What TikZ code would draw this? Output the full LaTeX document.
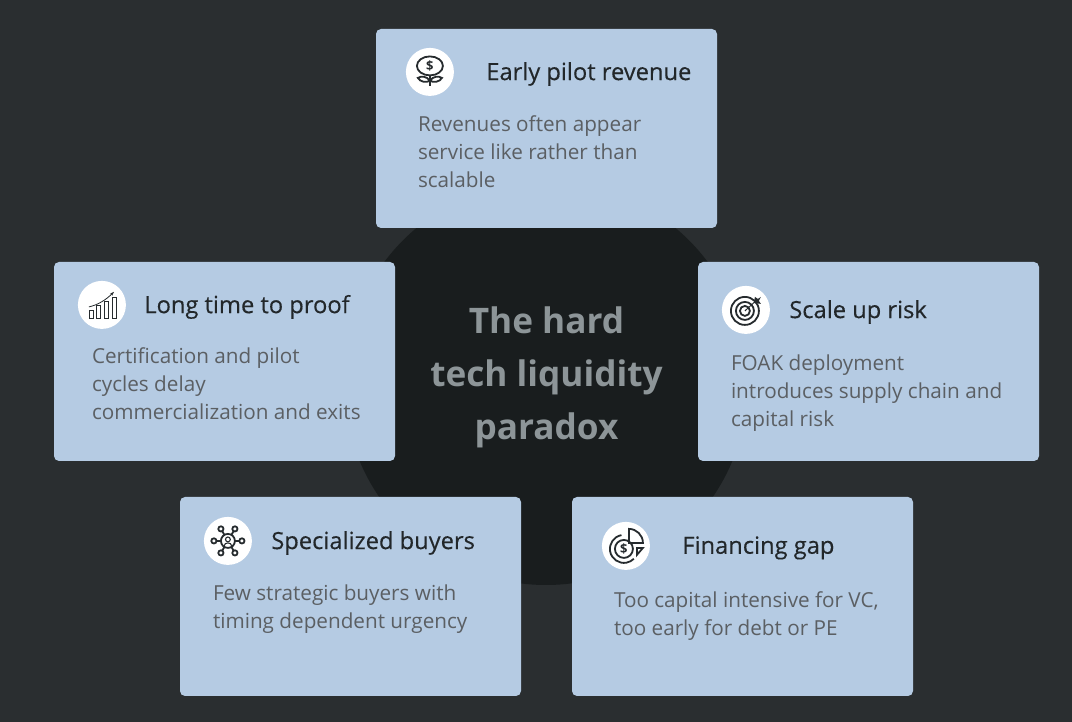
\documentclass[tikz,border=0pt]{standalone}
\usepackage{fontspec}
\setmainfont{Open Sans}
\newfontfamily\headfont[FakeBold=0.3]{Open Sans}
\usetikzlibrary{arrows.meta, positioning}

\definecolor{pageBg}{HTML}{2A2E30}
\definecolor{hubFill}{HTML}{191D1E}
\definecolor{hubText}{HTML}{8D9598}
\definecolor{cardFill}{HTML}{B5CBE3}
\definecolor{headText}{HTML}{22272A}
\definecolor{bodyText}{HTML}{5B5F63}
\definecolor{iconInk}{HTML}{262B2E}

\tikzset{
   card/.style={
      draw=none,
      fill=cardFill,
      rounded corners=5pt,
      minimum width=341pt,
      minimum height=199pt,
      inner sep=0pt
   },
   icondisc/.style={
      circle,
      fill=white,
      minimum size=48pt,
      inner sep=0pt
   },
   headline/.style={
      font=\headfont\fontsize{23.7}{28}\selectfont,
      text=headText,
      inner sep=0pt,
      anchor=west,
      yshift=-2pt
   },
   bodycopy/.style={
      font=\fontsize{20.7}{28}\selectfont,
      text=bodyText,
      align=left,
      inner sep=0pt,
      anchor=north west
   },
   ink/.style={
      draw=iconInk,
      line width=1.8pt
   },
   pics/flowerIcon/.style={
      code={
         \draw[ink] (0,6) ellipse (13 and 9.5);
         \node[text=iconInk, font=\fontsize{13}{13}\bfseries\selectfont, inner sep=0pt] at (0,6) {\$};
         \draw[ink] (0,-14) -- (0,-3);
         \draw[ink] (0,-9) .. controls (-3,-4) and (-9,-4) .. (-12,-6) .. controls (-10,-10) and (-4,-11) .. (0,-9);
         \draw[ink] (0,-9) .. controls (3,-4) and (9,-4) .. (12,-6) .. controls (10,-10) and (4,-11) .. (0,-9);
      }
   },
   pics/chartIcon/.style={
      code={
         \foreach \xleft/\ytop in {-13/-5.5, -6/-0.5, 2/3.5, 10/7.5} {
            \draw[ink, line width=0.8pt] (\xleft,-13) rectangle ++(4,\ytop+13);
         }
         \draw[ink, line width=0.8pt, -{Stealth[length=4pt]}] (-13,-2) .. controls (-4,0) and (4,5) .. (12,13);
      }
   },
   pics/targetIcon/.style={
      code={
         \foreach \ringsize in {14,9,5} {
            \draw[ink] (-1,-1) circle (\ringsize);
         }
         \draw[ink, line width=1pt] (-1,-1) -- (11,10);
         \fill[iconInk] (8,7) -- (9,13) -- (12,11) -- (15,13) -- (13,9) -- (15,6) -- cycle;
      }
   },
   pics/networkIcon/.style={
      code={
         \draw[ink] (0,0) circle (7);
         \draw[ink, line width=1.1pt] (0,1.5) circle (2.4);
         \draw[ink, line width=1.1pt] (-3.8,-5) .. controls (-3.5,-1) and (3.5,-1) .. (3.8,-5);
         \foreach \hubx/\huby in {-7/12, 7/12, -14/0, 14/0, -7/-12, 7/-12} {
            \draw[ink] (0.5*\hubx,0.5*\huby) -- (0.82*\hubx,0.82*\huby);
            \draw[ink] (\hubx,\huby) circle (2.6);
         }
      }
   },
   pics/gapIcon/.style={
      code={
         \draw[ink] (-2,-3) circle (9);
         \node[text=iconInk, font=\fontsize{13}{13}\bfseries\selectfont, inner sep=0pt] at (-2,-3) {\$};
         \draw[ink] (-2,-3) ++(100:14) arc (100:315:14);
         \draw[ink] (3,17) -- (3,3) -- (17,3) arc (0:90:14) -- cycle;
         \draw[ink] (11,-2) -- (17,-2) -- (11,-9) -- cycle;
      }
   }
}

\begin{document}
\begin{tikzpicture}[x=1pt, y=1pt]

   \fill[pageBg] (0,0) rectangle (1072,722);
   \useasboundingbox (0,0) rectangle (1072,722);

   \node[circle, fill=hubFill, minimum size=404pt, inner sep=0pt] (hub) at (546,339) {};

   \node[card] (pilot) at (546.5,593.5) {};
   \node[card] (proof) at (224.5,360.5) {};
   \node[card] (scale) at (868.5,360.5) {};
   \node[card] (buyers) at (350.5,125.5) {};
   \node[card] (gap) at (742.5,125.5) {};

   \node[font=\fontsize{35.2}{53}\bfseries\selectfont, text=hubText, align=center, inner sep=0pt] (hubTitle) at (546.5,345) {The hard\\tech liquidity\\paradox};

   \node[icondisc, below right=26pt and 37pt of pilot.north west] (pilotDisc) {};
   \node[icondisc, below right=26pt and 31pt of proof.north west] (proofDisc) {};
   \node[icondisc, below right=31pt and 31pt of scale.north west] (scaleDisc) {};
   \node[icondisc, below right=27pt and 31pt of buyers.north west] (buyersDisc) {};
   \node[icondisc, below right=32pt and 37pt of gap.north west] (gapDisc) {};

   \pic at (pilotDisc) {flowerIcon};
   \pic at (proofDisc) {chartIcon};
   \pic at (scaleDisc) {targetIcon};
   \pic at (buyersDisc) {networkIcon};
   \pic at (gapDisc) {gapIcon};

   \node[headline, right=32pt of pilotDisc] (pilotHead) {Early pilot revenue};
   \node[headline, right=18pt of proofDisc] (proofHead) {Long time to proof};
   \node[headline, right=19pt of scaleDisc] (scaleHead) {Scale up risk};
   \node[headline, right=19pt of buyersDisc] (buyersHead) {Specialized buyers};
   \node[headline, right=32pt of gapDisc] (gapHead) {Financing gap};

   \node[bodycopy, below right=87pt and 42pt of pilot.north west] (pilotBody) {Revenues often appear\\service like rather than\\scalable};
   \node[bodycopy, below right=86pt and 38pt of proof.north west] (proofBody) {Certification and pilot\\cycles delay\\commercialization and exits};
   \node[bodycopy, below right=93pt and 33pt of scale.north west] (scaleBody) {FOAK deployment\\introduces supply chain and\\capital risk};
   \node[bodycopy, below right=88pt and 33pt of buyers.north west] (buyersBody) {Few strategic buyers with\\timing dependent urgency};
   \node[bodycopy, below right=95pt and 42pt of gap.north west] (gapBody) {Too capital intensive for VC,\\too early for debt or PE};

\end{tikzpicture}
\end{document}
